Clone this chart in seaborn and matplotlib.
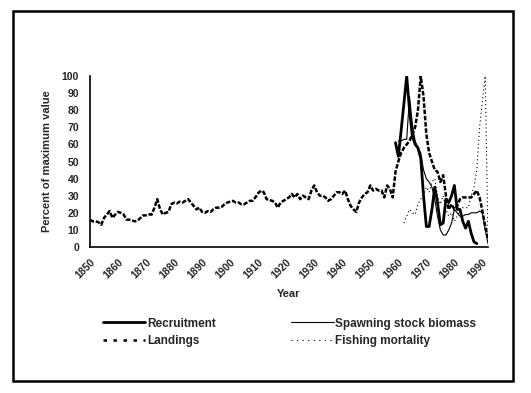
import numpy as np
import pandas as pd
import matplotlib
matplotlib.use("Agg")
import matplotlib.pyplot as plt
import seaborn as sns
from matplotlib.lines import Line2D
from matplotlib.patches import Rectangle
from matplotlib.ticker import MultipleLocator

# Landings, 1850-1992 (percent of max)
landing_years = list(range(1850, 1993))
landings = [
    16, 15, 15, 14.5, 13, 17, 19, 21, 17, 19,
    20.5, 20, 19, 16, 16, 15.5, 15, 15.5, 17, 18.5,
    18.5, 19, 19, 23, 28, 22, 19, 20, 20.5, 25,
    26, 25.5, 26.5, 26, 27, 28, 26, 24, 22, 23,
    20.5, 20, 21, 20.5, 22, 23, 23, 23.5, 25, 26,
    26.5, 27, 26, 26, 25, 25, 26, 27, 27, 29,
    31.5, 33, 32, 28, 27.5, 27, 26, 23, 26, 27,
    28, 29, 31, 29, 31, 28, 30, 29, 28, 33,
    36, 32, 30, 30, 29, 27, 28, 30, 32, 32,
    31, 33, 28, 24, 22, 20.5, 26, 29, 31, 32,
    36, 33, 34, 33, 33, 29, 36, 34, 29, 44,
    50, 55, 58, 60, 62, 66, 70, 80, 100, 88,
    66, 55, 50, 45, 44, 38, 42, 30, 22, 25,
    22, 24, 28, 29, 29, 29, 29, 31, 33, 29,
    21, 12, 5,
]

# Recruitment, 1959-1988
recruit_years = list(range(1959, 1989))
recruitment = [
    61, 53, 68, 84, 100, 80, 65, 60, 58, 52,
    30, 12, 12, 22, 35, 26, 13, 14, 28, 26,
    30, 36, 22, 22, 15, 11, 15, 8, 3, 2,
]

# Spawning stock biomass, 1960-1992
ssb_years = list(range(1960, 1993))
ssb = [
    62, 62, 63, 63, 88, 72, 62, 58, 55, 45,
    40, 38, 35, 28, 18, 10, 7, 7, 10, 14,
    22, 20, 18, 18, 19, 19, 20, 20, 20, 21,
    20, 10, 2,
]

# Fishing mortality, 1962-1992
f_years = list(range(1962, 1993))
fishing_mortality = [
    14, 18, 22, 20, 19, 25, 28, 30, 35, 32,
    38, 40, 30, 25, 30, 22, 18, 20, 15, 18,
    22, 23, 23, 23, 30, 35, 45, 70, 85, 100,
    5,
]

sns.set_style("white")
plt.rcParams["font.family"] = ["Liberation Sans", "DejaVu Sans"]
plt.rcParams["font.weight"] = "bold"

fig = plt.figure(figsize=(5.31, 3.93), dpi=100)
ax = fig.add_axes([90 / 531, 1 - 247 / 393, 398 / 531, 171 / 393])

sns.lineplot(x=landing_years, y=landings, ax=ax, color="black",
             linewidth=1.8, linestyle=(0, (1.8, 0.7)))
sns.lineplot(x=recruit_years, y=recruitment, ax=ax, color="black",
             linewidth=2.0)
sns.lineplot(x=ssb_years, y=ssb, ax=ax, color="black", linewidth=0.8)
sns.lineplot(x=f_years, y=fishing_mortality, ax=ax, color="black",
             linewidth=0.8, linestyle=(0, (1, 2.5)))

ax.set_xlim(1850, 1992)
ax.set_ylim(0, 100)
ax.yaxis.set_major_locator(MultipleLocator(10))
ax.xaxis.set_major_locator(MultipleLocator(10))
ax.xaxis.set_minor_locator(MultipleLocator(5))
for s in ["top", "right"]:
    ax.spines[s].set_visible(False)
for s in ["left", "bottom"]:
    ax.spines[s].set_color("black")
    ax.spines[s].set_linewidth(1.2)

ax.tick_params(axis="both", which="both", direction="in", length=2.5,
               width=1, color="black")
ax.tick_params(axis="y", labelsize=7.5, pad=8)
ax.tick_params(axis="x", labelsize=7.5, pad=7)
for lab in ax.get_xticklabels():
    lab.set_rotation(45)
    lab.set_ha("right")
    lab.set_va("top")
    lab.set_rotation_mode("anchor")
    lab.set_fontweight("bold")
for lab in ax.get_yticklabels():
    lab.set_fontweight("bold")

ax.set_xlabel("Year", fontsize=8, fontweight="bold", labelpad=6)
ax.set_ylabel("Percent of maximum value", fontsize=8, fontweight="bold",
              labelpad=7)

# legend keys drawn the way the original shows them
handles = [
    Line2D([], [], color="black", linewidth=2.0),
    Line2D([], [], color="black", linewidth=1.8, linestyle=(0, (1.4, 2.6))),
    Line2D([], [], color="black", linewidth=0.8),
    Line2D([], [], color="black", linewidth=0.8, linestyle=(0, (1, 4))),
]
labels = ["Recruitment", "Landings", "Spawning stock biomass",
          "Fishing mortality"]
fig.legend(handles, labels, ncol=2, frameon=False,
           prop={"size": 8.5, "weight": "bold"},
           loc="upper left", bbox_to_anchor=(92 / 531, 1 - 307 / 393),
           handlelength=3.6, handletextpad=0.15, columnspacing=6.4,
           labelspacing=0.45)

fig.patches.append(Rectangle((13 / 531, 1 - 381 / 393), 500 / 531, 370 / 393,
                             transform=fig.transFigure, fill=False,
                             edgecolor="black", linewidth=1.8))

fig.savefig("out.png", dpi=100)
